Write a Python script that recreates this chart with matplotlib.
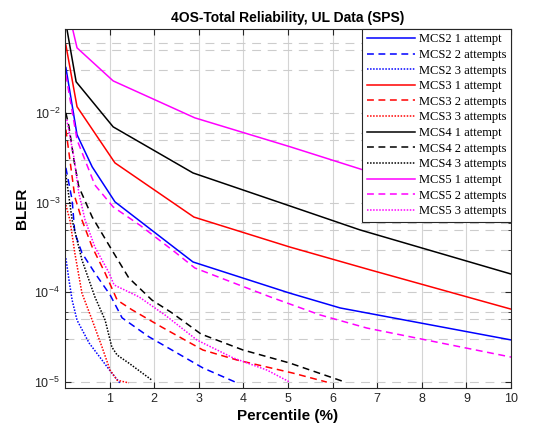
import matplotlib
matplotlib.use("Agg")
import matplotlib.pyplot as plt
from matplotlib.ticker import LogLocator, NullFormatter, FixedLocator

# percentile (%) / BLER
mcs2_1_x = [0.02, 0.27, 0.61, 1.12, 2.87, 5.04, 6.17, 10.0]
mcs2_1_y = [0.032, 5.7e-3, 2.5e-3, 1.02e-3, 2.18e-4, 9.8e-5, 6.7e-5, 2.95e-5]
mcs2_2_x = [0.02, 0.16, 0.22, 0.38, 0.67, 1.01, 1.28, 1.88, 2.47, 3.09, 3.86]
mcs2_2_y = [2.44e-3, 1.07e-3, 4.6e-4, 2.75e-4, 1.64e-4, 9.4e-5, 5.2e-5, 3.2e-5, 2.17e-5, 1.44e-5, 9.8e-6]
mcs2_3_x = [0.02, 0.09, 0.16, 0.27, 0.54, 0.83, 1.05, 1.23]
mcs2_3_y = [2.4e-4, 1.37e-4, 8.2e-5, 4.9e-5, 2.73e-5, 1.76e-5, 1.26e-5, 9.8e-6]

mcs3_1_x = [0.02, 0.27, 1.12, 2.89, 5.04, 6.84, 10.0]
mcs3_1_y = [0.057, 0.0117, 2.77e-3, 6.9e-4, 3.2e-4, 1.78e-4, 6.5e-5]
mcs3_2_x = [0.02, 0.22, 0.38, 0.61, 0.90, 1.17, 1.50, 2.17, 3.09, 3.86, 5.11, 5.87]
mcs3_2_y = [6.5e-3, 1.16e-3, 6.4e-4, 3.2e-4, 1.64e-4, 8.2e-5, 6.4e-5, 4.1e-5, 2.28e-5, 1.76e-5, 1.26e-5, 1.0e-5]
mcs3_3_x = [0.02, 0.11, 0.22, 0.38, 0.61, 0.83, 1.01, 1.17, 1.43]
mcs3_3_y = [9.4e-4, 6.4e-4, 2.75e-4, 9.8e-5, 4.9e-5, 2.46e-5, 1.36e-5, 1.05e-5, 9.8e-6]

mcs4_1_x = [0.02, 0.25, 1.08, 2.87, 4.98, 6.61, 10.0]
mcs4_1_y = [0.1, 0.0222, 6.98e-3, 2.14e-3, 9.4e-4, 4.97e-4, 1.6e-4]
mcs4_2_x = [0.02, 0.09, 0.20, 0.31, 0.61, 1.05, 1.43, 1.95, 2.40, 3.05, 3.99, 5.04, 6.28]
mcs4_2_y = [1.0e-2, 7.0e-3, 3.0e-3, 1.5e-3, 6.9e-4, 2.97e-4, 1.45e-4, 8.2e-5, 5.9e-5, 3.43e-5, 2.28e-5, 1.63e-5, 1.0e-5]
mcs4_3_x = [0.02, 0.16, 0.38, 0.67, 0.90, 1.05, 1.17, 1.43, 1.95]
mcs4_3_y = [2.04e-3, 6.4e-4, 2.3e-4, 8.9e-5, 4.9e-5, 2.46e-5, 2.0e-5, 1.63e-5, 1.05e-5]

mcs5_1_x = [0.02, 0.27, 1.08, 2.91, 5.04, 6.70, 10.0]
mcs5_1_y = [0.18, 0.053, 0.0227, 8.8e-3, 4.2e-3, 2.3e-3, 7.3e-4]
mcs5_2_x = [0.02, 0.27, 0.67, 1.08, 1.68, 2.47, 2.91, 4.60, 5.72, 6.77, 10.0]
mcs5_2_y = [0.0265, 5.0e-3, 1.57e-3, 8.95e-4, 5.6e-4, 2.8e-4, 1.87e-4, 8.9e-5, 5.6e-5, 4.0e-5, 1.9e-5]
mcs5_3_x = [0.04, 0.20, 0.31, 0.45, 0.67, 0.99, 1.10, 1.66, 2.24, 2.96, 3.77, 4.53, 5.04]
mcs5_3_y = [8.4e-3, 3.2e-3, 1.28e-3, 6.4e-4, 3.2e-4, 1.64e-4, 1.21e-4, 8.9e-5, 5.6e-5, 2.94e-5, 1.86e-5, 1.36e-5, 1.0e-5]

curves = [
    ("MCS2 1 attempt", mcs2_1_x, mcs2_1_y, "#0000ff", "-"),
    ("MCS2 2 attempts", mcs2_2_x, mcs2_2_y, "#0000ff", "--"),
    ("MCS2 3 attempts", mcs2_3_x, mcs2_3_y, "#0000ff", ":"),
    ("MCS3 1 attempt", mcs3_1_x, mcs3_1_y, "#ff0000", "-"),
    ("MCS3 2 attempts", mcs3_2_x, mcs3_2_y, "#ff0000", "--"),
    ("MCS3 3 attempts", mcs3_3_x, mcs3_3_y, "#ff0000", ":"),
    ("MCS4 1 attempt", mcs4_1_x, mcs4_1_y, "#000000", "-"),
    ("MCS4 2 attempts", mcs4_2_x, mcs4_2_y, "#000000", "--"),
    ("MCS4 3 attempts", mcs4_3_x, mcs4_3_y, "#000000", ":"),
    ("MCS5 1 attempt", mcs5_1_x, mcs5_1_y, "#ff00ff", "-"),
    ("MCS5 2 attempts", mcs5_2_x, mcs5_2_y, "#ff00ff", "--"),
    ("MCS5 3 attempts", mcs5_3_x, mcs5_3_y, "#ff00ff", ":"),
]

dash_styles = {"-": "-", "--": (0, (4.5, 3)), ":": (0, (1, 1))}

plt.rcParams["font.family"] = ["Liberation Sans", "DejaVu Sans"]

fig = plt.figure(figsize=(5.34, 4.32), dpi=100)
ax = fig.add_axes([0.1217, 0.1019, 0.8353, 0.831])

for label, xs, ys, color, ls in curves:
    ax.plot(xs, ys, color=color, linestyle=dash_styles[ls], linewidth=1.1, label=label)

ax.set_yscale("log")
ax.set_xlim(0, 10)
ax.set_ylim(8.6e-6, 0.086)
ax.xaxis.set_major_locator(FixedLocator(range(1, 11)))
ax.yaxis.set_major_locator(FixedLocator([1e-5, 1e-4, 1e-3, 1e-2]))
ax.yaxis.set_minor_locator(LogLocator(base=10, subs=(3, 5, 6)))
ax.yaxis.set_minor_formatter(NullFormatter())

ax.grid(True, axis="x", which="major", color="#d4d4d4", linewidth=0.8, linestyle="-")
ax.grid(True, axis="y", which="both", color="#cccccc", linewidth=0.8, linestyle=(0, (8, 6)))
ax.set_axisbelow(True)

ax.tick_params(which="both", direction="in", top=True, right=True, colors="#262626",
               labelsize=9)
ax.tick_params(which="major", length=4)
ax.tick_params(which="minor", length=2)
for sp in ax.spines.values():
    sp.set_color("#262626")
    sp.set_linewidth(0.8)

ax.set_title("4OS-Total Reliability, UL Data (SPS)", fontsize=10, fontweight="bold", pad=5)
ax.set_xlabel("Percentile (%)", fontsize=11, fontweight="bold", labelpad=3)
ax.set_ylabel("BLER", fontsize=11, fontweight="bold", labelpad=4)

leg = ax.legend(loc="upper right", borderaxespad=0, fancybox=False, framealpha=1,
                edgecolor="#262626", handlelength=3.9, handletextpad=0.3,
                labelspacing=0.29, borderpad=0.35,
                prop={"family": "Liberation Serif", "size": 9})
leg.get_frame().set_linewidth(0.8)

fig.savefig("out.png", dpi=100)
